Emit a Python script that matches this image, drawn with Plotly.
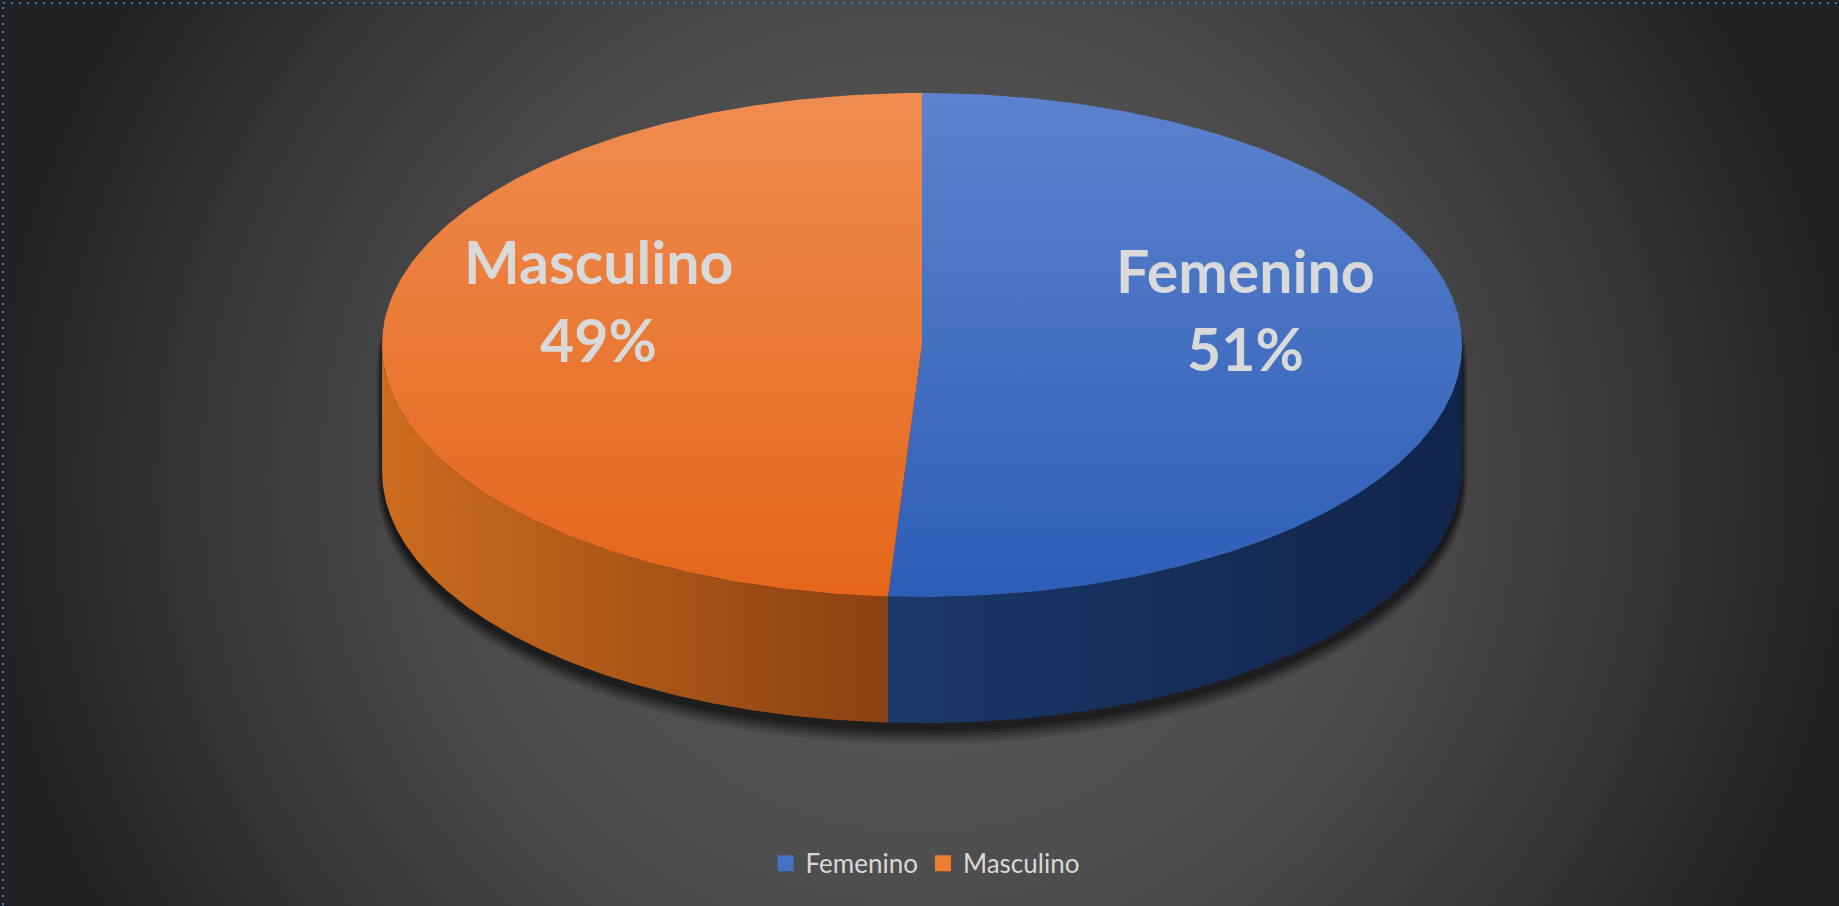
import numpy as np
import plotly.graph_objects as go

# ---- data ----
categories = ["Femenino", "Masculino"]
values = [51, 49]

# ---- style ----
W, H = 1839, 906
CX, CY, RX, RY, DEPTH = 922, 345, 540, 252, 126
top_grad = {"Femenino": ["#5C82CD", "#2D5EB7"], "Masculino": ["#EF8C51", "#E5661A"]}
side_grad = {"Femenino": ["#1A3868", "#11244A"], "Masculino": ["#CC6C20", "#8A4111"]}
legend_col = {"Femenino": "#4472C4", "Masculino": "#ED7D31"}
TXT = "#D9D9D9"
FONT = "Lato"


def pt(theta, dy=0.0, scale=1.0):
    t = np.radians(theta)
    return CX + scale * RX * np.sin(t), CY - scale * RY * np.cos(t) + dy


def arc(a0, a1, dy=0.0, n=200):
    th = np.linspace(a0, a1, n)
    x, y = pt(th, dy)
    return list(x), list(y)


fig = go.Figure()

# background radial gradient (decoration)
fig.add_trace(go.Scatter(
    x=[-5, W + 5, W + 5, -5, -5], y=[-420, -420, 1380, 1380, -420],
    mode="lines", line=dict(width=0), fill="toself",
    fillgradient=dict(type="radial", colorscale=[[0, "#5A5A5A"], [0.5, "#4C4C4C"], [0.78, "#363636"], [1, "#222222"]]),
    hoverinfo="skip", showlegend=False))

# shadow of the pie (decoration): only below/around the lower rim
for k, op in enumerate([0.10, 0.13, 0.16, 0.20, 0.26]):
    grow = (5 - k) * 1.8
    th1 = np.linspace(-90, 90, 200)
    th2 = np.linspace(90, 270, 200)
    t1 = np.radians(th1); t2 = np.radians(th2)
    xs = list(CX + (RX + grow * 0.6) * np.sin(t1)) + list(CX + (RX + grow * 0.6) * np.sin(t2))
    ys = list(CY - RY * np.cos(t1) + 20) + list(CY - (RY + grow) * np.cos(t2) + DEPTH + 5 + grow * 0.8)
    fig.add_trace(go.Scatter(x=xs, y=ys, mode="lines", line=dict(width=0), fill="toself",
                             fillcolor=f"rgba(0,0,0,{op})", hoverinfo="skip", showlegend=False))

total = sum(values)
angles = []
a = 0.0
for v in values:
    sweep = v / total * 360.0
    angles.append((a, a + sweep))
    a += sweep

# side walls (visible front half: 90..270 deg clockwise from top)
for cat, (a0, a1) in zip(categories, angles):
    s, e = max(a0, 90.0), min(a1, 270.0)
    if e <= s:
        continue
    xt, yt = arc(s, e)
    xb, yb = arc(e, s, DEPTH)
    fig.add_trace(go.Scatter(
        x=xt + xb + [xt[0]], y=yt + yb + [yt[0]], mode="lines", line=dict(width=0),
        fill="toself", fillgradient=dict(type="horizontal", colorscale=[[0, side_grad[cat][0]], [1, side_grad[cat][1]]]),
        hoverinfo="skip", showlegend=False))

# top faces (gradient runs bottom->top in screen space)
for cat, (a0, a1) in zip(categories, angles):
    xa, ya = arc(a0, a1)
    fig.add_trace(go.Scatter(
        x=[CX] + xa + [CX], y=[CY] + ya + [CY], mode="lines", line=dict(width=0),
        fill="toself", fillgradient=dict(type="vertical", colorscale=[[0, top_grad[cat][1]], [1, top_grad[cat][0]]]),
        hoverinfo="skip", showlegend=False))

# data labels
annotations = []
for cat, v, (a0, a1) in zip(categories, values, angles):
    m = (a0 + a1) / 2
    lx, ly = pt(m, scale=0.6)
    ly -= 40
    annotations.append(dict(x=lx, y=ly - 39, text=f"<b>{cat}</b>", showarrow=False, xref="x", yref="y",
                            font=dict(family=FONT, size=59, color=TXT), xanchor="center", yanchor="middle"))
    annotations.append(dict(x=lx, y=ly + 39, text=f"<b>{v}%</b>", showarrow=False, xref="x", yref="y",
                            font=dict(family=FONT, size=59, color=TXT), xanchor="center", yanchor="middle"))

# legend entries
for cat in categories:
    fig.add_trace(go.Scatter(x=[None], y=[None], mode="markers", name=cat,
                             marker=dict(symbol="square", size=16, color=legend_col[cat])))

fig.update_layout(
    width=W, height=H, margin=dict(l=0, r=0, t=0, b=0),
    paper_bgcolor="#2A2A2A", plot_bgcolor="rgba(0,0,0,0)",
    xaxis=dict(range=[0, W], visible=False, fixedrange=True),
    yaxis=dict(range=[H, 0], visible=False, fixedrange=True),
    showlegend=True, hovermode=False,
    legend=dict(orientation="h", x=0.503, y=0.047, xanchor="center", yanchor="middle",
                font=dict(family=FONT, size=26, color=TXT), bgcolor="rgba(0,0,0,0)", itemclick=False),
    annotations=annotations,
    shapes=[dict(type="rect", xref="x", yref="y", x0=3, y0=3, x1=W + 20, y1=H + 20,
                 line=dict(color="#4472C4", width=2, dash="2px,6px"), layer="above")],
)

fig.write_html("out.html")
